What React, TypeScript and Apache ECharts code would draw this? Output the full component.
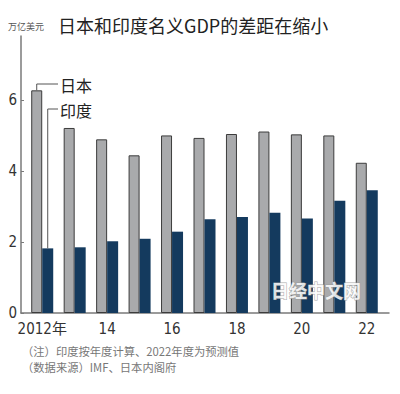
import React, { useEffect, useRef } from "react";
import * as echarts from "echarts";

const years = ["2012", "2013", "2014", "2015", "2016", "2017", "2018", "2019", "2020", "2021", "2022"];
const xTickLabels = ["2012年", "", "14", "", "16", "", "18", "", "20", "", "22"];
const japanGDP = [6.27, 5.21, 4.89, 4.44, 5.0, 4.93, 5.04, 5.11, 5.03, 5.0, 4.23];
const indiaGDP = [1.82, 1.85, 2.02, 2.09, 2.29, 2.64, 2.7, 2.82, 2.66, 3.16, 3.46];
const yTicks = [0, 2, 4, 6];
const seriesNames = ["日本", "印度"];
const titleText = "日本和印度名义GDP的差距在缩小";
const unitText = "万亿美元";
const noteLines = ["（注）印度按年度计算、2022年度为预测值", "（数据来源）IMF、日本内阁府"];
const watermark = "日经中文网";

const Y_MAX = 7.8;
const GRAY = "#a9aaac";
const NAVY = "#143a5e";
const CJK = "'Noto Sans CJK SC', 'Noto Sans', sans-serif";
const NARROW = "'Liberation Sans Narrow', 'DejaVu Sans Condensed', 'Noto Sans CJK SC', sans-serif";

export default function App() {
  const ref = useRef<HTMLDivElement>(null);
  useEffect(() => {
    if (!ref.current) return;
    const chart = echarts.init(ref.current, null, { renderer: "svg" });
    const BAR_W = 11;
    chart.setOption({
      animation: false,
      backgroundColor: "#ffffff",
      grid: [
        { left: 21, width: 368, top: 36, height: 277 },
        { left: 26, width: 357, top: 36, height: 277 },
      ],
      xAxis: [
        {
          gridIndex: 0,
          type: "value",
          min: 0,
          max: 1,
          axisLine: { show: true, lineStyle: { color: "#7a7a7a", width: 1.5 } },
          axisTick: { show: false },
          axisLabel: { show: false },
          splitLine: { show: false },
        },
        {
          gridIndex: 1,
          type: "category",
          data: years,
          axisLine: { show: false },
          axisTick: { show: false },
          axisLabel: {
            interval: 0,
            formatter: (_v: string, i: number) => xTickLabels[i],
            fontFamily: NARROW,
            fontSize: 15,
            color: "#333",
            margin: 8,
          },
          splitLine: { show: false },
        },
      ],
      yAxis: [
        {
          gridIndex: 0,
          type: "value",
          min: 0,
          max: Y_MAX,
          axisLine: { show: true, lineStyle: { color: "#7a7a7a", width: 1.5 } },
          axisTick: { show: true, inside: true, length: 3, customValues: yTicks, lineStyle: { color: "#7a7a7a" } },
          axisLabel: { customValues: yTicks, fontFamily: NARROW, fontSize: 15, color: "#333", margin: 4 },
          splitLine: { show: false },
        },
        {
          gridIndex: 1,
          type: "value",
          min: 0,
          max: Y_MAX,
          show: false,
        },
      ],
      series: [
        {
          name: seriesNames[0],
          type: "bar",
          xAxisIndex: 1,
          yAxisIndex: 1,
          data: japanGDP,
          barWidth: BAR_W,
          barGap: "0%",
          itemStyle: { color: GRAY, borderColor: "#3c3c3c", borderWidth: 1 },
        },
        {
          name: seriesNames[1],
          type: "bar",
          xAxisIndex: 1,
          yAxisIndex: 1,
          data: indiaGDP,
          barWidth: BAR_W,
          barGap: "0%",
          itemStyle: { color: NAVY },
        },
      ],
    });

    const pJ = chart.convertToPixel({ xAxisIndex: 1, yAxisIndex: 1 }, [0, japanGDP[0]]) as number[];
    const pI = chart.convertToPixel({ xAxisIndex: 1, yAxisIndex: 1 }, [0, indiaGDP[0]]) as number[];
    const jx = pJ[0] - BAR_W / 2;
    const ix = pI[0] + BAR_W / 2;
    const lineStyle = { stroke: "#555", lineWidth: 1, fill: null };

    chart.setOption({
      graphic: [
        {
          type: "text",
          x: 8,
          y: 26,
          style: { text: unitText, fontSize: 9, fill: "#555", fontFamily: CJK, verticalAlign: "middle" },
        },
        {
          type: "text",
          x: 58,
          y: 25,
          style: { text: titleText, fontSize: 18, fill: "#222", fontFamily: CJK, verticalAlign: "middle" },
        },
        {
          type: "polyline",
          shape: { points: [[jx, pJ[1]], [jx, 84], [58, 84]] },
          style: lineStyle,
          z: 10,
        },
        {
          type: "polyline",
          shape: { points: [[ix, pI[1]], [ix, 109], [58, 109]] },
          style: lineStyle,
          z: 10,
        },
        {
          type: "text",
          x: 60,
          y: 85,
          style: { text: seriesNames[0], fontSize: 16, fill: "#222", fontFamily: CJK, verticalAlign: "middle" },
        },
        {
          type: "text",
          x: 60,
          y: 110,
          style: { text: seriesNames[1], fontSize: 16, fill: "#222", fontFamily: CJK, verticalAlign: "middle" },
        },
        {
          type: "text",
          x: 22,
          y: 351,
          style: { text: noteLines[0], fontSize: 11.3, fill: "#777", fontFamily: CJK, verticalAlign: "middle" },
        },
        {
          type: "text",
          x: 22,
          y: 367,
          style: { text: noteLines[1], fontSize: 11.3, fill: "#777", fontFamily: CJK, verticalAlign: "middle" },
        },
        {
          type: "text",
          x: 316,
          y: 290,
          z: 20,
          style: {
            text: watermark,
            fontSize: 18,
            fontWeight: "bold",
            fill: "#ffffff",
            stroke: "#9a9a9a",
            lineWidth: 1,
            fontFamily: CJK,
            align: "center",
            verticalAlign: "middle",
            opacity: 0.85,
          },
        },
      ],
    });

    return () => chart.dispose();
  }, []);
  return <div ref={ref} style={{ position: "fixed", left: 0, top: 0, width: 400, height: 394 }} />;
}
